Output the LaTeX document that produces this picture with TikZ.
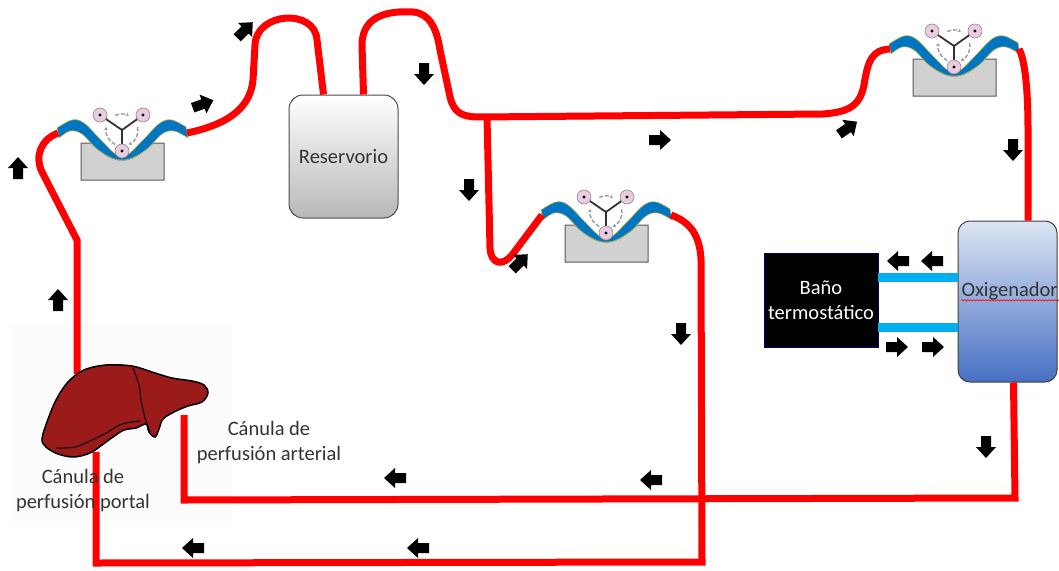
\documentclass[tikz,border=0pt]{standalone}
\usepackage{fontspec}
\setmainfont{Carlito}
\usepackage{tikz}
\usetikzlibrary{arrows.meta, decorations.pathmorphing}
\definecolor{sangre}{HTML}{FF0000}
\definecolor{agua}{HTML}{00B0F0}
\definecolor{tubo}{HTML}{0075C2}
\definecolor{rodillo}{HTML}{E8CCDF}
\definecolor{higado}{HTML}{9B1A1A}
\definecolor{oxiclaro}{HTML}{DDE5F4}
\definecolor{oxioscuro}{HTML}{4670C2}
\definecolor{texto}{HTML}{333333}

\tikzset{
  blood/.style={sangre, line width=7pt},
  coolant/.style={agua, line width=9pt},
  rotulo/.style={text=texto, align=center},
  reservoir/.style={draw=black!70, line width=1pt, rounded corners=14pt,
    top color=white, bottom color=black!28, text=texto,
    minimum width=109pt, minimum height=123pt},
  oxybox/.style={draw=black!75, line width=1pt, rounded corners=12pt,
    top color=oxiclaro, bottom color=oxioscuro,
    minimum width=99pt, minimum height=161pt},
  bath/.style={fill=black, draw=blue!40!black, text=white, align=center,
    minimum width=114pt, minimum height=94pt},
  % flecha de flujo
  flow/.pic={
    \fill[black] (-11,-5) -- (0,-5) -- (0,-10) -- (11,0) -- (0,10) -- (0,5) -- (-11,5) -- cycle;
  },
  % bomba peristaltica
  pump/.pic={
    \filldraw[fill=black!18, draw=black!65, line width=1pt]
      (-41,-8) -- (-31,-8) .. controls (-18,4) and (-9,9) .. (0,9)
      .. controls (9,9) and (18,4) .. (31,-8) -- (42,-8) -- (42,29) -- (-41,29) -- cycle;
    \filldraw[fill=tubo, draw=yellow!70!black, line width=0.6pt]
      plot[smooth, tension=0.6] coordinates {(-65,-23) (-50,-31) (-38,-28) (-22,-12) (-8,2) (0,5) (8,2) (22,-12) (38,-28) (50,-31) (64,-24)}
      -- plot[smooth, tension=0.6] coordinates {(66,-13) (52,-20) (40,-17) (25,-2) (10,7) (0,9) (-10,7) (-25,-2) (-40,-17) (-52,-20) (-63,-13)}
      -- cycle;
    \draw[black!80, line width=1.8pt] (0,-21) -- (-22,-36) (0,-21) -- (21,-36) (0,-21) -- (0,0);
    \foreach \a/\b in {245/295, 350/425, 115/190}
      \draw[black!40, line width=1.4pt, dash pattern=on 4pt off 2pt, -{Stealth[length=3pt, width=4pt]}]
        (0,-21) ++(\a:16) arc[start angle=\a, end angle=\b, radius=16];
    \foreach \p in {(-22,-36), (21,-36), (0,0)} {
      \filldraw[fill=rodillo, draw=rodillo!65!black, line width=0.6pt] \p circle[radius=7];
      \fill[black] \p circle[radius=1.6];
    }
    \coordinate (-in) at (-64,-18);
    \coordinate (-out) at (65,-18);
  },
}

\begin{document}
\begin{tikzpicture}[x=1pt, y=-1pt, font=\fontsize{20.5}{25}\selectfont, >=Stealth]
  \useasboundingbox (0,0) rectangle (1059,570);
  \fill[black!1] (10,325) rectangle (232,522);

  % equipos
  \node[reservoir] (res) at (343.5,156.5) {Reservorio};
  \node[oxybox] (oxy) at (1007.5,301.5) {};
  \node[bath] (bath) at (821,300) {Baño\\termostático};
  \pic (pumpA) at (122,151) {pump};
  \pic (pumpB) at (954,67) {pump};
  \pic (pumpC) at (606,233) {pump};

  % canulas del higado
  \coordinate (hepout) at (77,374);
  \coordinate (portal) at (96,452);
  \coordinate (artery) at (184,415);

  % circuito de perfusion
  \draw[blood] (hepout) -- (77,240) -- (42,172) .. controls (34,155) and (42,139) .. (pumpA-in);
  \draw[blood] (pumpA-out) .. controls (225,125) and (250,110) .. (253,80) -- (255,45)
    .. controls (256,12) and (315,8) .. (317,40) -- ([xshift=-20pt]res.north);
  \draw[blood] ([xshift=20pt]res.north) -- (362,45) .. controls (362,12) and (395,11) .. (413,12)
    .. controls (430,13) and (437,30) .. (440,50) -- (450,97)
    .. controls (454,113) and (462,117) .. (480,117) -- (823,114)
    .. controls (850,112) and (860,105) .. (864,85)
    .. controls (868,60) and (872,50) .. (pumpB-in);
  \draw[blood] (487,117) -- (490,248) .. controls (491,265) and (503,266) .. (512,255) -- (pumpC-in);
  \draw[blood] (pumpC-out) .. controls (690,222) and (700,235) .. (701,260) -- (702,562) -- (96,563) -- (portal);
  \draw[blood] (pumpB-out) .. controls (1025,60) and (1028,90) .. (1028,130) -- ([xshift=20.5pt]oxy.north);
  \draw[blood] ([xshift=6pt]oxy.south) -- (1015,498) -- (184,500) -- (artery);

  % agua del baño
  \draw[coolant] ([yshift=23pt]bath.east) -- ([yshift=23pt]bath.east -| oxy.west);
  \draw[coolant] ([yshift=-27pt]bath.east) -- ([yshift=-27pt]bath.east -| oxy.west);

  % higado
  \filldraw[fill=higado, draw=black, line width=1.5pt] plot[smooth cycle, tension=0.55] coordinates {
    (68,382) (84,370) (106,365) (132,366) (152,372) (172,378) (192,381) (204,385) (208,393)
    (202,402) (188,406) (174,412) (163,419) (159,429) (155,437) (149,432) (146,424) (136,428)
    (124,430) (113,437) (102,445) (90,453) (74,457) (58,454) (46,447) (42,439) (47,422) (56,400)};
  \draw[black, line width=1pt] plot[smooth, tension=0.6] coordinates {(133,368) (139,385) (141,400) (145,418) (150,432)};
  \draw[black, line width=1pt] plot[smooth, tension=0.6] coordinates {(56,448) (75,447) (92,440) (108,432) (122,424) (140,421)};

  % sentido del flujo
  \foreach \x/\y/\a in {18/168/90, 58/300/90, 203/104/20, 245/30/45, 424/74/-90, 660/140/0,
      848/128/35, 1013/150/-90, 469/190/-90, 520/262/45, 681/334/-90, 898/261/180, 932/261/180,
      897/347/0, 933/347/0, 986/447/-90, 651/480/180, 395/478/180, 418/548/180, 193/548/180}
    \pic[rotate=\a] at (\x,\y) {flow};

  % rotulos
  \node[rotulo, anchor=west] (oxytxt) at (958,291) {Oxigenador};
  \draw[sangre, line width=0.6pt, decorate, decoration={snake, amplitude=0.7pt, segment length=3pt}]
    ([yshift=-4pt, xshift=3pt]oxytxt.base west) -- ([yshift=-4pt]oxytxt.base east);
  \node[rotulo] (portaltxt) at (83,491) {Cánula de\\perfusión portal};
  \node[rotulo] (arterytxt) at (269,443) {Cánula de\\perfusión arterial};
\end{tikzpicture}
\end{document}
